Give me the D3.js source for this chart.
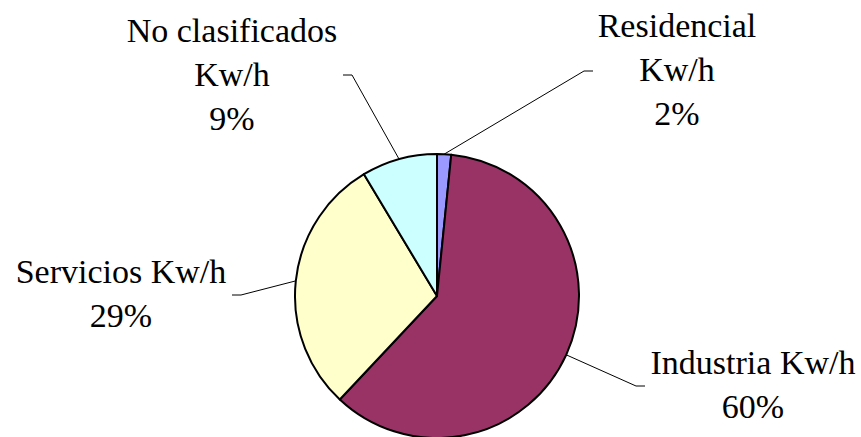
<!DOCTYPE html>
<html>
<head>
<meta charset="utf-8">
<script src="https://cdn.jsdelivr.net/npm/d3@7"></script>
<style>
  html, body { margin: 0; padding: 0; background: #fff; }
  svg { display: block; }
  text { font-family: "Liberation Serif", "Times New Roman", serif; font-size: 34px; fill: #000; }
</style>
</head>
<body>
<svg id="chart" width="861" height="437"></svg>
<script>
// Consumo eléctrico por sector (porcentaje del total)
const categories = ["Residencial Kw/h", "Industria Kw/h", "Servicios Kw/h", "No clasificados Kw/h"];
const values = [1.6, 60.4, 29.4, 8.6];
const colors = ["#9999FF", "#993366", "#FFFFCC", "#CCFFFF"];

// Label lines as broken for display
const labelLines = [
  ["Residencial", "Kw/h"],
  ["Industria Kw/h"],
  ["Servicios Kw/h"],
  ["No clasificados", "Kw/h"]
];

// Label layout: text centre x, first baseline y, and the elbow of each leader line
const labelLayout = [
  { x: 677, y: 37,  elbow: [584, 71],  end: [593, 71] },
  { x: 753, y: 374, elbow: [636, 386], end: [645, 386] },
  { x: 121, y: 283, elbow: [241, 295], end: [232, 295] },
  { x: 232, y: 42,  elbow: [352, 75],  end: [343, 75] }
];

const cx = 437, cy = 296, radius = 142, lineGap = 44;

const svg = d3.select("#chart");
const data = categories.map((c, i) => ({ name: c, value: values[i], color: colors[i], i }));

const pie = d3.pie().sort(null).value(d => d.value);
const arcs = pie(data);
const arc = d3.arc().innerRadius(0).outerRadius(radius);

const g = svg.append("g").attr("transform", `translate(${cx},${cy})`);

g.selectAll("path.slice")
  .data(arcs)
  .join("path")
  .attr("class", "slice")
  .attr("d", arc)
  .attr("fill", d => d.data.color)
  .attr("stroke", "#000")
  .attr("stroke-width", 2)
  .attr("stroke-linejoin", "round");

// Leader lines from the slice edge at its mid angle
const edgePoint = d => {
  const a = (d.startAngle + d.endAngle) / 2;
  return [cx + radius * Math.sin(a), cy - radius * Math.cos(a)];
};

svg.selectAll("polyline.leader")
  .data(arcs)
  .join("polyline")
  .attr("class", "leader")
  .attr("points", d => {
    const L = labelLayout[d.data.i];
    return [edgePoint(d), L.elbow, L.end].map(p => p.join(",")).join(" ");
  })
  .attr("fill", "none")
  .attr("stroke", "#000")
  .attr("stroke-width", 1);

// Labels: category name lines followed by the rounded percentage
const total = d3.sum(values);
const labels = svg.selectAll("text.label")
  .data(arcs)
  .join("text")
  .attr("class", "label")
  .attr("text-anchor", "middle");

labels.each(function(d) {
  const L = labelLayout[d.data.i];
  const lines = labelLines[d.data.i].concat([Math.round(d.data.value / total * 100) + "%"]);
  d3.select(this).selectAll("tspan")
    .data(lines)
    .join("tspan")
    .attr("x", L.x)
    .attr("y", (t, k) => L.y + k * lineGap)
    .text(t => t);
});
</script>
</body>
</html>
